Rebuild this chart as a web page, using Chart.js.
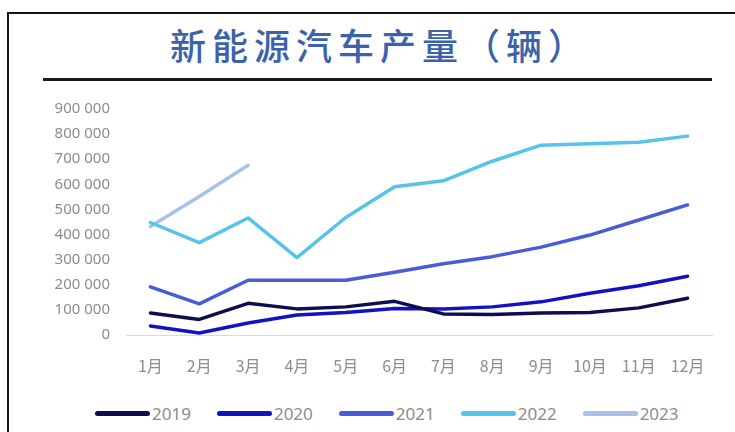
<!DOCTYPE html>
<html>
<head>
<meta charset="utf-8">
<script src="https://cdn.jsdelivr.net/npm/chart.js@4.4.0/dist/chart.umd.min.js"></script>
<style>
  html, body { margin: 0; padding: 0; background: #fff; }
  body { width: 735px; height: 432px; position: relative; overflow: hidden; }
  .frame { position: absolute; left: 7px; top: 12px; width: 800px; height: 500px; border: 2.5px solid #151515; }
  .title {
    position: absolute; left: 0; top: 26px; width: 760px; text-align: center;
    font-family: "Noto Sans CJK SC", sans-serif; font-size: 36px; font-weight: 500;
    line-height: 1; letter-spacing: 6px; color: #3c62aa; white-space: nowrap;
  }
  .rule { position: absolute; left: 43px; top: 78px; width: 669px; height: 3px; background: #1a1a1a; }
  .plot { position: absolute; left: 0; top: 90px; width: 735px; height: 300px; }
  #legend {
    position: absolute; left: 95px; top: 403px; height: 20px;
    display: flex; align-items: center;
    font-family: "Noto Sans", sans-serif; font-size: 17px; color: #8c8c8c;
  }
  #legend .item { display: flex; align-items: center; margin-right: 26px; }
  #legend .swatch { width: 55px; height: 5px; border-radius: 3px; margin-right: 2px; }
</style>
</head>
<body>
<div class="frame"></div>
<div class="title">新能源汽车产量（辆）</div>
<div class="rule"></div>
<div class="plot"><canvas id="myChart"></canvas></div>
<div id="legend"></div>

<script>
const months = ['1月', '2月', '3月', '4月', '5月', '6月', '7月', '8月', '9月', '10月', '11月', '12月'];

const years = ['2019', '2020', '2021', '2022', '2023'];

const output2019 = [88000, 62000, 126000, 104000, 112000, 134000, 84000, 82000, 88000, 90000, 108000, 146000];
const output2020 = [36000, 8000, 48000, 80000, 90000, 106000, 104000, 112000, 132000, 166000, 196000, 234000];
const output2021 = [192000, 124000, 218000, 218000, 218000, 250000, 284000, 312000, 350000, 398000, 458000, 518000];
const output2022 = [448000, 368000, 466000, 308000, 468000, 590000, 614000, 692000, 756000, 762000, 768000, 792000];
const output2023 = [432000, 552000, 676000];

const yTicks = [0, 100000, 200000, 300000, 400000, 500000, 600000, 700000, 800000, 900000];

const colors = ['#0e0e4e', '#1212c2', '#4a5bd6', '#55c4e8', '#a9c1ea'];
const series = [output2019, output2020, output2021, output2022, output2023];

const data = {
    labels: months,
    datasets: years.map((y, i) => ({
        label: y,
        data: series[i],
        borderColor: colors[i],
        backgroundColor: colors[i],
        borderWidth: 3.5,
        borderCapStyle: 'round',
        borderJoinStyle: 'round',
        pointRadius: 0,
        tension: 0,
    }))
};

// space as thousands separator, e.g. 900 000
const fmt = v => String(v).replace(/\B(?=(\d{3})+(?!\d))/g, ' ');

const config = {
    type: 'line',
    data: data,
    options: {
        responsive: false,
        animation: false,
        layout: { padding: { top: 19, right: 23, bottom: 0, left: 0 } },
        plugins: {
            legend: { display: false },
            tooltip: { enabled: false },
        },
        scales: {
            x: {
                offset: true,
                grid: { display: false, drawTicks: false },
                border: { display: true, color: '#d9d9d9', width: 1 },
                ticks: {
                    padding: 21,
                    color: '#8c8c8c',
                    font: { family: '"Noto Sans CJK SC", sans-serif', size: 16 },
                    maxRotation: 0,
                },
                afterFit: s => { s.height = 55; },
            },
            y: {
                min: 0,
                max: 900000,
                grid: { display: false, drawTicks: false },
                border: { display: false },
                afterBuildTicks: s => { s.ticks = yTicks.map(v => ({ value: v })); },
                ticks: {
                    padding: 16,
                    color: '#8c8c8c',
                    font: { family: '"Noto Sans", sans-serif', size: 15 },
                    callback: v => fmt(v),
                },
                // fixed axis width; top/bottom set by layout padding only
                afterFit: s => {
                    s.width = 126;
                    s.paddingTop = 0;
                    s.paddingBottom = 0;
                },
            }
        }
    }
};

const canvas = document.querySelector('#myChart');
canvas.width = 735;
canvas.height = 300;
const myChart = new Chart(canvas, config);

// legend built from the chart's datasets
const legendEl = document.querySelector('#legend');
myChart.data.datasets.forEach(ds => {
    const item = document.createElement('div');
    item.className = 'item';
    const sw = document.createElement('span');
    sw.className = 'swatch';
    sw.style.background = ds.borderColor;
    const txt = document.createElement('span');
    txt.textContent = ds.label;
    item.appendChild(sw);
    item.appendChild(txt);
    legendEl.appendChild(item);
});
</script>
</body>
</html>
